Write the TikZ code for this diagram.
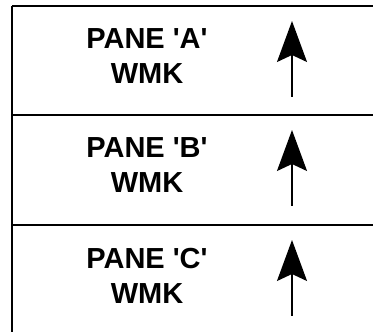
\documentclass[tikz,border=0pt]{standalone}
\usepackage{fontspec}
\setmainfont{Liberation Sans}
\usetikzlibrary{arrows.meta}
\tikzset{
	panelabel/.style={align=center, font=\fontsize{29}{35}\selectfont\bfseries, inner sep=0pt},
	wmkarrow/.style={line width=1.6pt, -{Stealth[length=41pt, width=30pt, inset=7pt]}},
	paneline/.style={line width=1.4pt}
}

\begin{document}
\begin{tikzpicture}[x=1pt, y=1pt]
		%%%%% START %%%%%
		\useasboundingbox (0, 0) rectangle (373, 332);
		
		% left edge of the sheet
		\draw[paneline] (12, 326) -- (12, 0);
		
		% the three panes
		\foreach \p/\y in {A/326, B/217, C/107} {
			\draw[paneline] (12, \y) -- (373, \y);
			\node[panelabel] (pane-\p) at (147, \y-50.5) {PANE \textquotesingle\p\textquotesingle\\WMK};
			\coordinate (tail-\p) at (292, \y-91);
			\coordinate (tip-\p) at (292, \y-15);
			\draw[wmkarrow] (tail-\p) -- (tip-\p);
		}
		
		%%%%% END %%%%%
	\end{tikzpicture}
\end{document}
